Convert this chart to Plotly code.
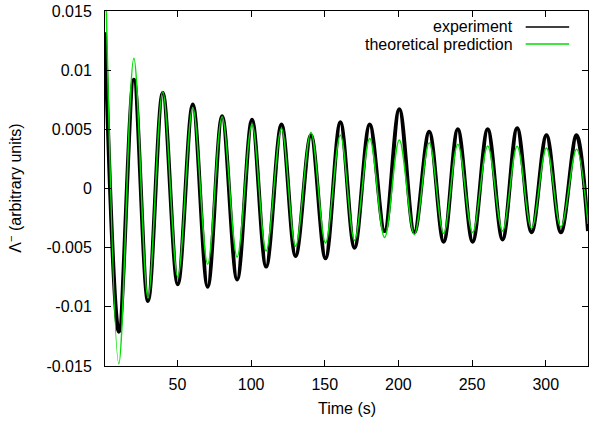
import plotly.graph_objects as go

# Experiment (black): extrema
exp_t = [0.8, 10.2, 20.4, 30.0, 40.0, 50.2, 60.4, 70.5, 80.3, 90.5, 100.6, 110.2,
         120.6, 130.2, 140.6, 150.5, 160.6, 170.2, 180.5, 190.6, 200.6, 210.8,
         220.9, 230.7, 240.3, 250.4, 260.6, 270.7, 280.6, 290.4, 300.5, 310.3,
         320.9, 328.7]
exp_v = [0.0132, -0.0121, 0.0092, -0.0095, 0.0081, -0.0081, 0.0071, -0.0083,
         0.0061, -0.0077, 0.0058, -0.0066, 0.0054, -0.0057, 0.0045, -0.0059,
         0.0056, -0.0050, 0.0054, -0.0036, 0.0067, -0.0037, 0.0048, -0.0045,
         0.0050, -0.0045, 0.0050, -0.0043, 0.0051, -0.0037, 0.0045, -0.0037,
         0.0045, -0.0036]

# Theoretical prediction (green): extrema
th_t = [0.8, 10.2, 20.4, 30.0, 40.0, 50.2, 60.4, 70.5, 80.3, 90.5, 100.6, 110.2,
        120.6, 130.2, 140.6, 150.5, 160.6, 170.2, 180.5, 190.6, 200.6, 210.8,
        220.9, 230.7, 240.3, 250.4, 260.6, 270.7, 280.6, 290.4, 300.5, 310.3,
        320.9, 328.7]
th_v = [0.0205, -0.0148, 0.0110, -0.00925, 0.00817, -0.00748, 0.00685, -0.0064,
        0.00606, -0.00579, 0.00544, -0.00528, 0.00508, -0.00488, 0.00474, -0.0046,
        0.00451, -0.00437, 0.00423, -0.00415, 0.00409, -0.0039, 0.00386, -0.0038,
        0.00375, -0.00372, 0.0036, -0.00359, 0.00358, -0.00338, 0.00343, -0.00325,
        0.00332, -0.0030]

x_ticks = [50, 100, 150, 200, 250, 300]
y_ticks = [-0.015, -0.01, -0.005, 0, 0.005, 0.01, 0.015]
y_tick_text = ["-0.015", "-0.01", "-0.005", "0", "0.005", "0.01", "0.015"]
legend_labels = ["experiment", "theoretical prediction"]

BLACK = "#000000"
GREEN = "#00dd00"
FONT = "Liberation Sans, Arial, sans-serif"

fig = go.Figure()
fig.add_trace(go.Scatter(x=exp_t, y=exp_v, mode="lines",
                         line=dict(color=BLACK, width=4, shape="spline", smoothing=1.0),
                         showlegend=False))
fig.add_trace(go.Scatter(x=th_t, y=th_v, mode="lines",
                         line=dict(color=GREEN, width=1.5, shape="spline", smoothing=1.0),
                         showlegend=False))

# gnuplot-style key: text right-aligned, sample line to the right
key_y = [0.955, 0.907]
for lab, col, ky in zip(legend_labels, [BLACK, GREEN], key_y):
    fig.add_annotation(xref="paper", yref="paper", x=0.849, y=ky, text=lab,
                       showarrow=False, xanchor="right", yanchor="middle",
                       font=dict(family=FONT, size=16, color="black"))
    fig.add_shape(type="line", xref="paper", yref="paper", x0=0.871, x1=0.961,
                  y0=ky, y1=ky, line=dict(color=col, width=1.5))

# axis titles
fig.add_annotation(xref="paper", yref="paper", x=0.5, y=-0.119, text="Time (s)",
                   showarrow=False, xanchor="center", yanchor="middle",
                   font=dict(family=FONT, size=16, color="black"))
fig.add_annotation(xref="paper", yref="paper", x=-0.188, y=0.5,
                   text="Λ<sup>−</sup> (arbitrary units)", textangle=-90,
                   showarrow=False, xanchor="center", yanchor="middle",
                   font=dict(family=FONT, size=16, color="black"))

axis_common = dict(showline=True, linecolor="black", linewidth=1, mirror="allticks",
                   ticks="inside", ticklen=6, tickcolor="black", showgrid=False,
                   zeroline=False, automargin=False,
                   tickfont=dict(family=FONT, size=16, color="black"))

fig.update_xaxes(range=[0.8, 328.7], tickvals=x_ticks, ticklabelstandoff=4, **axis_common)
fig.update_yaxes(range=[-0.015, 0.015], tickvals=y_ticks, ticktext=y_tick_text,
                 ticklabelstandoff=9, **axis_common)

fig.update_layout(width=589, height=424, margin=dict(l=105, r=1, t=11, b=58),
                  plot_bgcolor="white", paper_bgcolor="white",
                  font=dict(family=FONT, size=16, color="black"))

fig.write_html("out.html", config={"displayModeBar": False},
               post_script="document.body.style.margin='0';document.body.style.overflow='hidden';")
